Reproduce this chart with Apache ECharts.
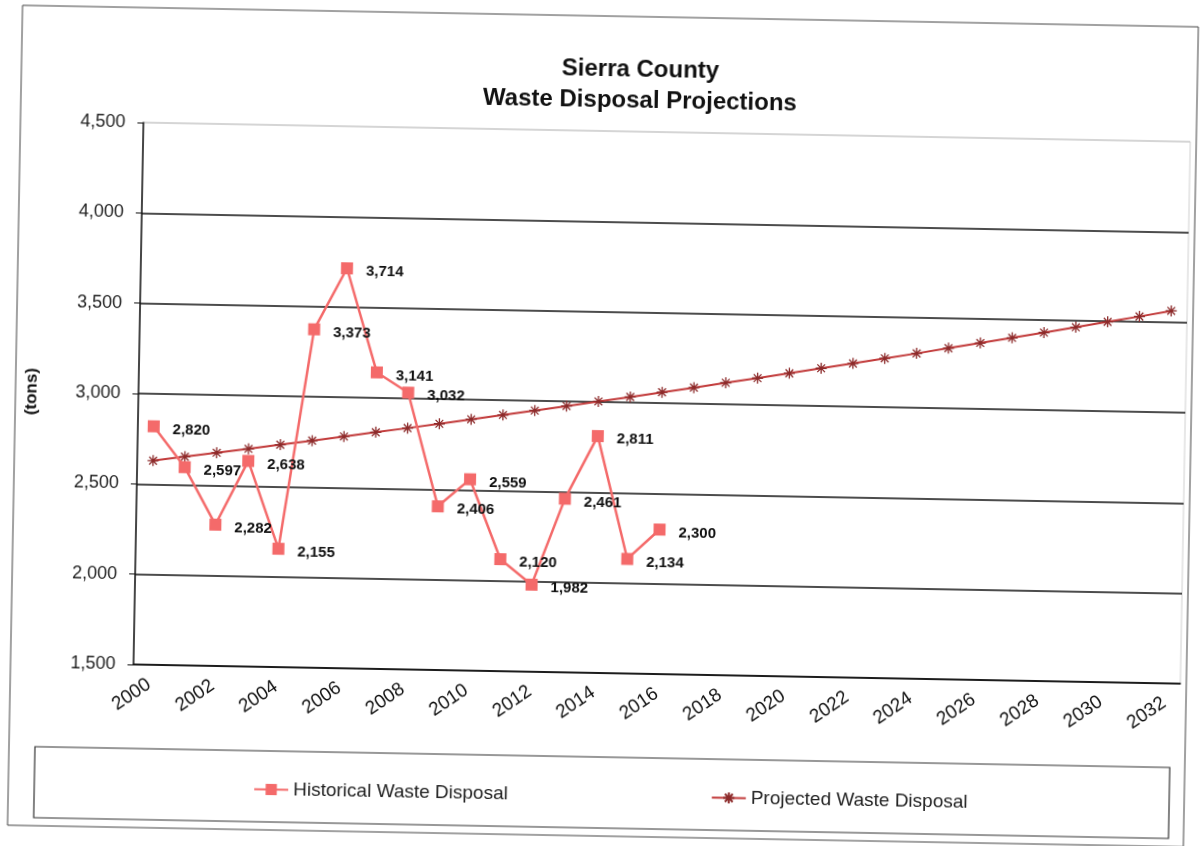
<!DOCTYPE html>
<html>
<head>
<meta charset="utf-8">
<title>Sierra County Waste Disposal Projections</title>
<script src="https://cdn.jsdelivr.net/npm/echarts/dist/echarts.min.js"></script>
<style>
    html, body {
        margin: 0;
        padding: 0;
        background: #fff;
        overflow: hidden;
    }
    #waste {
        width: 1203px;
        height: 846px;
        /* 扫描件略有倾斜 */
        transform: rotate(1.05deg);
        transform-origin: 601px 423px;
    }
</style>
</head>
<body>
<div id="waste"></div>
<script>
    //年份
    let years = ['2000','2001','2002','2003','2004','2005','2006','2007','2008','2009','2010',
        '2011','2012','2013','2014','2015','2016','2017','2018','2019','2020','2021',
        '2022','2023','2024','2025','2026','2027','2028','2029','2030','2031','2032'];
    //历史数据 2000-2016
    let historical = [2820, 2597, 2282, 2638, 2155, 3373, 3714, 3141, 3032, 2406, 2559,
        2120, 1982, 2461, 2811, 2134, 2300];
    //预测数据 2000-2032
    let projected = [2630, 2655, 2680, 2705, 2731, 2757, 2783, 2810, 2836, 2863, 2891,
        2918, 2946, 2974, 3003, 3031, 3060, 3089, 3119, 3148, 3178, 3209,
        3239, 3270, 3301, 3333, 3365, 3397, 3429, 3462, 3495, 3528, 3562];
    //纵轴刻度
    let yMin = 1500;
    let yMax = 4500;
    let yStep = 500;

    let fontName = '"Liberation Sans", Arial, sans-serif';

    function fmt(v) {
        return Number(v).toLocaleString('en-US');
    }

    let myChart = echarts.init(document.getElementById('waste'));

    let option = {
        animation: false,
        backgroundColor: '#fff',
        textStyle: {
            fontFamily: fontName
        },
        title: {
            text: 'Sierra County\nWaste Disposal Projections',
            left: 634,
            top: 54,
            padding: 0,
            textAlign: 'center',
            textStyle: {
                fontSize: 24,
                fontWeight: 'bold',
                color: '#111',
                lineHeight: 31,
                fontFamily: fontName
            }
        },
        //外框和图例框
        graphic: [{
            type: 'rect',
            shape: {x: 15, y: 16, width: 1176, height: 820},
            style: {fill: 'none', stroke: '#444', lineWidth: 1}
        }, {
            type: 'rect',
            shape: {x: 41, y: 757, width: 1135, height: 71},
            style: {fill: 'none', stroke: '#333', lineWidth: 1.2}
        }],
        legend: {
            left: 255,
            top: 781,
            itemWidth: 34,
            itemHeight: 14,
            itemGap: 203,
            textStyle: {
                fontSize: 19,
                color: '#222',
                fontFamily: fontName
            },
            data: ['Historical Waste Disposal', 'Projected Waste Disposal']
        },
        grid: {
            show: true,
            left: 138,
            right: 18,
            top: 131,
            bottom: 173,
            borderColor: '#d0d0d0',
            borderWidth: 1
        },
        xAxis: {
            type: 'category',
            data: years,
            axisLine: {
                lineStyle: {color: '#111', width: 1.5}
            },
            axisTick: {
                interval: 0,
                length: 5,
                lineStyle: {color: '#111'}
            },
            axisLabel: {
                interval: 1,
                rotate: 35,
                margin: 18,
                fontSize: 19,
                color: '#111'
            }
        },
        yAxis: {
            type: 'value',
            min: yMin,
            max: yMax,
            interval: yStep,
            name: '(tons)',
            nameLocation: 'middle',
            nameGap: 98,
            nameTextStyle: {
                fontSize: 17,
                fontWeight: 'bold',
                color: '#111'
            },
            axisLine: {
                show: true,
                lineStyle: {color: '#111', width: 1.5}
            },
            axisTick: {
                show: true,
                length: 6,
                lineStyle: {color: '#111'}
            },
            axisLabel: {
                fontSize: 18,
                color: '#222',
                margin: 18,
                formatter: fmt
            },
            splitLine: {
                lineStyle: {
                    //顶部那条线较淡
                    color: ['#111', '#111', '#111', '#111', '#111', '#111', '#cfcfcf'],
                    width: 1.5
                }
            }
        },
        series: [{
            name: 'Historical Waste Disposal',
            type: 'line',
            data: historical,
            symbol: 'rect',
            symbolSize: 12,
            z: 3,
            lineStyle: {
                color: '#f46a6a',
                width: 2.5
            },
            itemStyle: {
                color: '#f46a6a'
            },
            label: {
                show: true,
                position: 'right',
                distance: 13,
                offset: [0, 3],
                fontSize: 15,
                fontWeight: 'bold',
                color: '#111',
                formatter: function (p) {
                    return fmt(p.value);
                }
            }
        }, {
            name: 'Projected Waste Disposal',
            type: 'line',
            data: projected,
            symbol: 'path://M0,5L10,5M5,0L5,10M1.5,1.5L8.5,8.5M1.5,8.5L8.5,1.5',
            symbolSize: 11,
            z: 2,
            lineStyle: {
                color: '#c23b3b',
                width: 2
            },
            itemStyle: {
                color: '#8c2a2a',
                borderColor: '#8c2a2a',
                borderWidth: 1.3
            }
        }]
    };

    myChart.setOption(option);
</script>
</body>
</html>
